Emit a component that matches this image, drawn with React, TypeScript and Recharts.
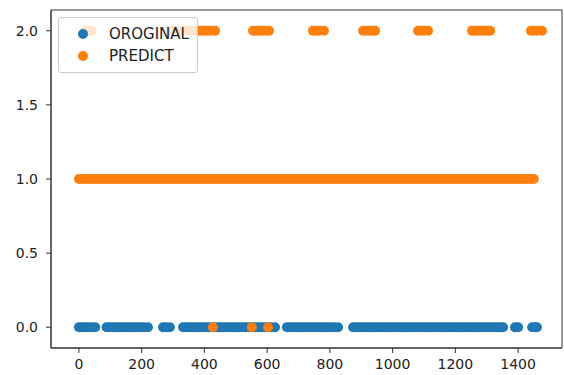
import React from "react";
import {
  ScatterChart,
  Scatter,
  XAxis,
  YAxis,
  Legend,
  ReferenceArea,
} from "recharts";

// x positions (sample index) of each group of points
const originalZero = [
  0, 10, 20, 30, 40, 52,
  88, 98, 108, 118, 128, 138, 148, 158, 168, 178, 188, 198, 208, 220,
  268, 278, 290,
  332, 342, 352, 362, 372, 382, 392, 402, 412, 422, 432, 442, 452, 462, 472,
  482, 492, 502, 512, 522, 532, 542, 552, 562, 572, 582, 592, 602, 612, 625,
  663, 673, 683, 693, 703, 713, 723, 733, 743, 753, 763, 773, 783, 793, 803,
  813, 826,
  874, 884, 894, 904, 914, 924, 934, 944, 954, 964, 974, 984, 994, 1004, 1014,
  1024, 1034, 1044, 1054, 1064, 1074, 1084, 1094, 1104, 1114, 1124, 1134,
  1144, 1154, 1164, 1174, 1184, 1194, 1204, 1214, 1224, 1234, 1244, 1254,
  1264, 1274, 1284, 1294, 1304, 1314, 1324, 1334, 1344, 1352,
  1390, 1400,
  1445, 1455, 1460,
];

const predictZero = [427, 551, 603];

const predictOne = [
  0, 10, 20, 30, 40, 50, 60, 70, 80, 90, 100, 110, 120, 130, 140, 150, 160,
  170, 180, 190, 200, 210, 220, 230, 240, 250, 260, 270, 280, 290, 300, 310,
  320, 330, 340, 350, 360, 370, 380, 390, 400, 410, 420, 430, 440, 450, 460,
  470, 480, 490, 500, 510, 520, 530, 540, 550, 560, 570, 580, 590, 600, 610,
  620, 630, 640, 650, 660, 670, 680, 690, 700, 710, 720, 730, 740, 750, 760,
  770, 780, 790, 800, 810, 820, 830, 840, 850, 860, 870, 880, 890, 900, 910,
  920, 930, 940, 950, 960, 970, 980, 990, 1000, 1010, 1020, 1030, 1040, 1050,
  1060, 1070, 1080, 1090, 1100, 1110, 1120, 1130, 1140, 1150, 1160, 1170,
  1180, 1190, 1200, 1210, 1220, 1230, 1240, 1250, 1260, 1270, 1280, 1290,
  1300, 1310, 1320, 1330, 1340, 1350, 1360, 1370, 1380, 1390, 1400, 1410,
  1420, 1430, 1440, 1450,
];

const predictTwo = [
  20, 30, 40,
  290, 300, 310, 320, 330, 340, 350, 360, 370, 380, 390, 400, 410, 420, 434,
  555, 565, 575, 585, 595, 606,
  746, 756, 766, 781,
  906, 916, 926, 936, 944,
  1081, 1091, 1101, 1113,
  1253, 1263, 1273, 1283, 1293, 1303, 1311,
  1441, 1451, 1461, 1476,
];

const xTicks = [0, 200, 400, 600, 800, 1000, 1200, 1400];
const yTicks = [0, 0.5, 1, 1.5, 2];

const BLUE = "#1f77b4";
const ORANGE = "#ff7f0e";

const originalData = originalZero.map((x) => ({ x, y: 0 }));
const predictData = [
  ...predictOne.map((x) => ({ x, y: 1 })),
  ...predictTwo.map((x) => ({ x, y: 2 })),
  ...predictZero.map((x) => ({ x, y: 0 })),
];

const X_DOMAIN: [number, number] = [-89, 1540];
const Y_DOMAIN: [number, number] = [-0.14, 2.14];

const tickStyle = { fontSize: 14, fill: "#222", fontFamily: "DejaVu Sans" };

const dot = (color: string) => (props: any) =>
  <circle cx={props.cx} cy={props.cy} r={5} fill={color} />;

function LegendBox(props: any) {
  const items = props.payload || [];
  return (
    <div
      style={{
        background: "rgba(255,255,255,0.8)",
        border: "1px solid #ccc",
        borderRadius: 3,
        padding: "5px 8px 5px 19px",
        fontFamily: "DejaVu Sans",
        fontSize: 15,
        color: "#222",
      }}
    >
      {items.map((item: any) => (
        <div
          key={item.value}
          style={{ display: "flex", alignItems: "center", height: 22 }}
        >
          <span
            style={{
              width: 10,
              height: 10,
              borderRadius: 5,
              background: item.color,
              display: "inline-block",
              marginRight: 21,
            }}
          />
          {item.value}
        </div>
      ))}
    </div>
  );
}

export default function App() {
  return (
    <div style={{ position: "absolute", left: 0, top: 0, background: "#fff" }}>
      <ScatterChart
        width={564}
        height={375}
        margin={{ top: 10, right: 2, left: 0, bottom: 0 }}
      >
        <XAxis
          type="number"
          dataKey="x"
          domain={X_DOMAIN}
          allowDataOverflow
          ticks={xTicks}
          height={27}
          tickSize={5}
          tickMargin={6}
          tick={tickStyle}
          stroke="#333"
        />
        <YAxis
          type="number"
          dataKey="y"
          domain={Y_DOMAIN}
          allowDataOverflow
          ticks={yTicks}
          width={51}
          tickSize={5}
          tickMargin={8}
          tick={tickStyle}
          tickFormatter={(v: number) => v.toFixed(1)}
          stroke="#333"
        />
        <ReferenceArea
          x1={X_DOMAIN[0]}
          x2={X_DOMAIN[1]}
          y1={Y_DOMAIN[0]}
          y2={Y_DOMAIN[1]}
          fill="none"
          stroke="#333"
          ifOverflow="visible"
        />
        <Scatter
          name="OROGINAL"
          data={originalData}
          fill={BLUE}
          shape={dot(BLUE)}
          isAnimationActive={false}
        />
        <Scatter
          name="PREDICT"
          data={predictData}
          fill={ORANGE}
          shape={dot(ORANGE)}
          isAnimationActive={false}
        />
        <Legend
          layout="vertical"
          align="center"
          verticalAlign="middle"
          content={<LegendBox />}
          wrapperStyle={{ left: 58, top: 17, width: "auto" }}
        />
      </ScatterChart>
    </div>
  );
}
